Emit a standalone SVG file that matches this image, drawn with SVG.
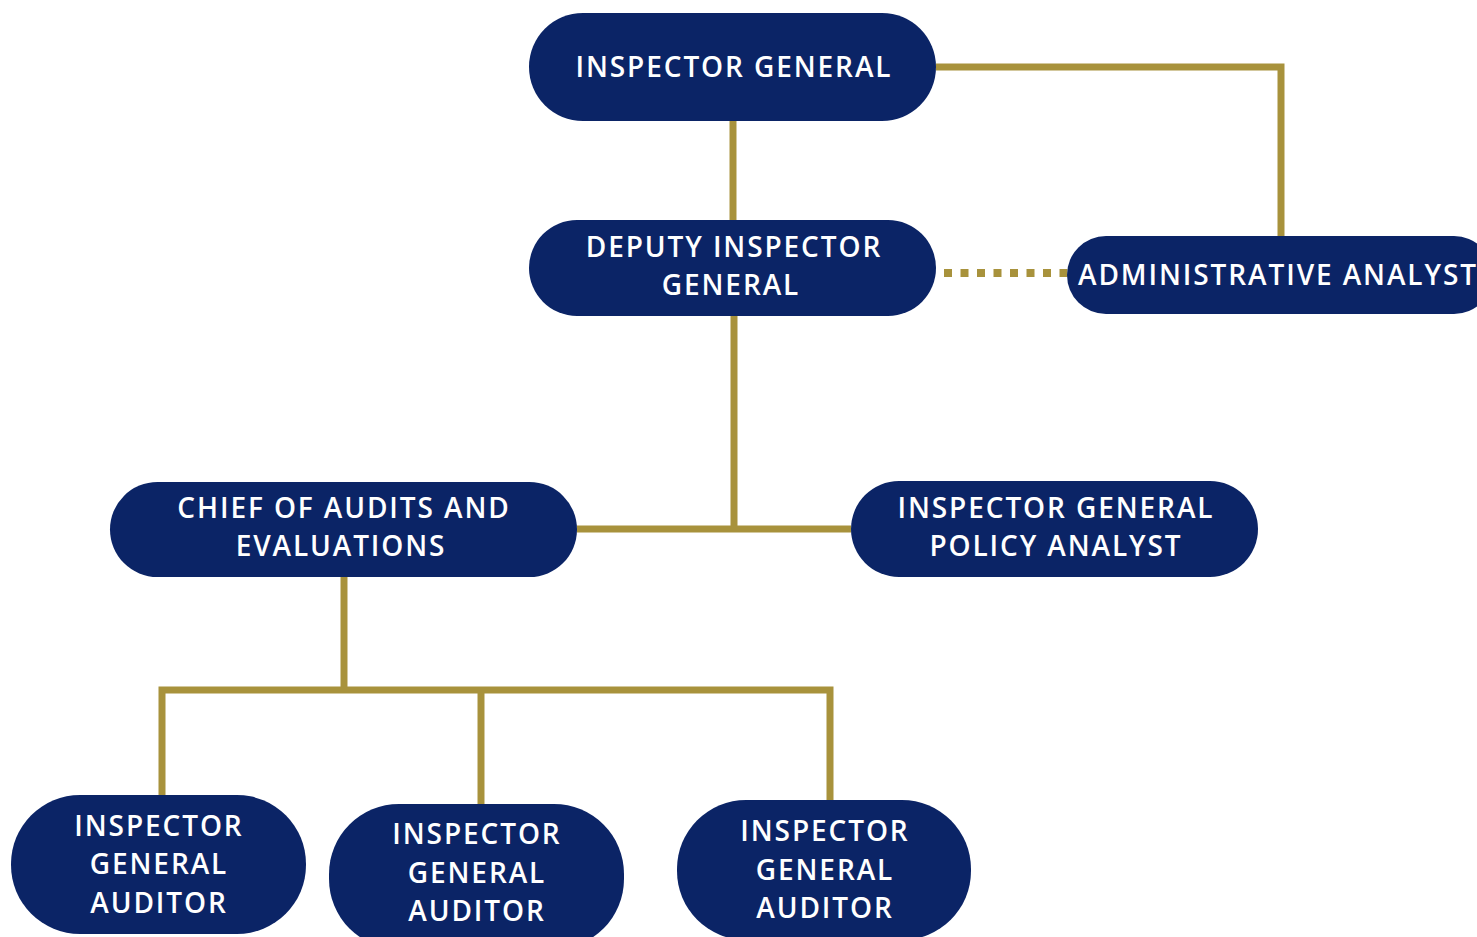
<svg xmlns="http://www.w3.org/2000/svg" width="1477" height="937" viewBox="0 0 1477 937">
<style>
.n{fill:#0B2466}
.t{fill:#fff;font-family:"Open Sans","Liberation Sans",sans-serif;font-size:28px;font-weight:600;letter-spacing:1.9px;text-anchor:middle}
.c{stroke:#A8923C;stroke-width:7;fill:none}
.d{stroke:#A8923C;stroke-width:8;fill:none;stroke-dasharray:8 8.5}
</style>
<rect width="1477" height="937" fill="#fff"/>
<g id="connectors">
<path class="c" d="M936 67H1281V237"/>
<path class="c" d="M733 121V221"/>
<path class="c" d="M734 316V529"/>
<path class="c" d="M577 529H851"/>
<path class="d" d="M944 273H1080"/>
<path class="c" d="M344 577V690"/>
<path class="c" d="M162 795V690H830V800"/>
<path class="c" d="M481 690V804"/>
</g>
<g id="inspector-general">
<rect class="n" x="529" y="13" width="407" height="108" rx="54"/>
<text class="t" x="734" y="77">INSPECTOR GENERAL</text>
</g>
<g id="deputy-inspector-general">
<rect class="n" x="529" y="220" width="407" height="96" rx="48"/>
<text class="t" x="734" y="257">DEPUTY INSPECTOR</text>
<text class="t" x="731" y="295">GENERAL</text>
</g>
<g id="administrative-analyst">
<rect class="n" x="1067" y="236" width="426" height="78" rx="39"/>
<text class="t" x="1278" y="285">ADMINISTRATIVE ANALYST</text>
</g>
<g id="chief-of-audits">
<rect class="n" x="110" y="482" width="467" height="95" rx="47.5"/>
<text class="t" x="344" y="518">CHIEF OF AUDITS AND</text>
<text class="t" x="341" y="556">EVALUATIONS</text>
</g>
<g id="policy-analyst">
<rect class="n" x="851" y="481" width="407" height="96" rx="48"/>
<text class="t" x="1056" y="518">INSPECTOR GENERAL</text>
<text class="t" x="1056" y="556">POLICY ANALYST</text>
</g>
<g id="auditor-1">
<rect class="n" x="11" y="795" width="295" height="139" rx="69"/>
<text class="t" x="159" y="836">INSPECTOR</text>
<text class="t" x="159" y="874">GENERAL</text>
<text class="t" x="159" y="913">AUDITOR</text>
</g>
<g id="auditor-2">
<rect class="n" x="329" y="804" width="295" height="145" rx="70"/>
<text class="t" x="477" y="844">INSPECTOR</text>
<text class="t" x="477" y="883">GENERAL</text>
<text class="t" x="477" y="921">AUDITOR</text>
</g>
<g id="auditor-3">
<rect class="n" x="677" y="800" width="294" height="140" rx="69"/>
<text class="t" x="825" y="841">INSPECTOR</text>
<text class="t" x="825" y="880">GENERAL</text>
<text class="t" x="825" y="918">AUDITOR</text>
</g>
</svg>
